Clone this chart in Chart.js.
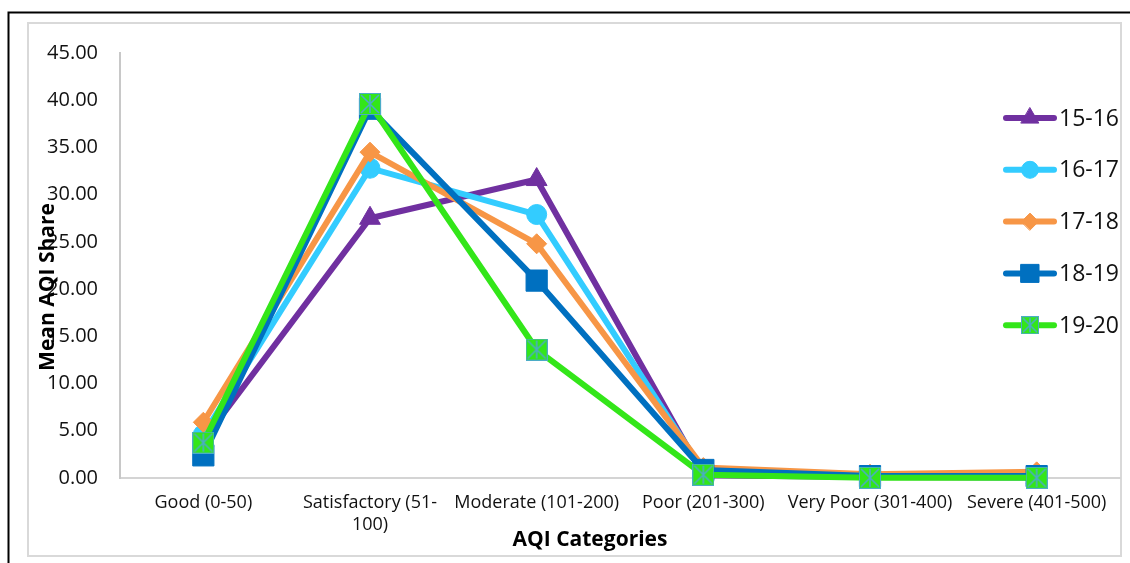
<!DOCTYPE html>
<html>
<head>
<meta charset="utf-8">
<script src="https://cdn.jsdelivr.net/npm/chart.js@4.4.1/dist/chart.umd.min.js"></script>
<style>
  html, body { margin: 0; padding: 0; background: #fff; }
  #wrap { width: 1130px; height: 563px; position: relative; }
</style>
</head>
<body>
<div id="wrap"><canvas id="c" width="1130" height="563"></canvas></div>
<script>
// AQI category share (%) per year
const categories = ['Good (0-50)', ['Satisfactory (51-', '100)'], 'Moderate (101-200)', 'Poor (201-300)', 'Very Poor (301-400)', 'Severe (401-500)'];
const seriesNames = ['15-16', '16-17', '17-18', '18-19', '19-20'];
const share1516 = [4.0, 27.5, 31.6, 0.3, 0.1, 0.05];
const share1617 = [4.6, 32.8, 27.9, 0.7, 0.15, 0.05];
const share1718 = [5.9, 34.5, 24.8, 1.1, 0.4, 0.65];
const share1819 = [2.4, 39.1, 20.9, 0.85, 0.2, 0.2];
const share1920 = [3.75, 39.6, 13.6, 0.35, 0.02, 0.02];
const yTicks = [0, 5, 10, 15, 20, 25, 30, 35, 40, 45];

const FONT = "'Open Sans', 'Noto Sans', sans-serif";

// square marker with an asterisk cross for the 19-20 series
function starSquare(size) {
  const c = document.createElement('canvas');
  c.width = size; c.height = size;
  const g = c.getContext('2d');
  g.fillStyle = '#33e619';
  g.fillRect(0, 0, size, size);
  g.strokeStyle = '#4bacc6';
  g.lineWidth = 1;
  g.strokeRect(0.5, 0.5, size - 1, size - 1);
  g.lineWidth = 1.6;
  g.beginPath();
  g.moveTo(2, 2); g.lineTo(size - 2, size - 2);
  g.moveTo(size - 2, 2); g.lineTo(2, size - 2);
  g.moveTo(size / 2, 2); g.lineTo(size / 2, size - 2);
  g.stroke();
  return c;
}
const starBig = starSquare(22);
const starSmall = starSquare(18);

const styles = [
  { color: '#7030a0', pointStyle: 'triangle', radius: 12, order: 5 },
  { color: '#33ccff', pointStyle: 'circle', radius: 10, order: 4 },
  { color: '#f79646', pointStyle: 'rectRot', radius: 10, order: 3 },
  { color: '#0070c0', pointStyle: 'rect', radius: 15, order: 2 },
  { color: '#33e619', pointStyle: starBig, radius: 11, order: 1 }
];
const values = [share1516, share1617, share1718, share1819, share1920];

const datasets = seriesNames.map((name, i) => ({
  label: name,
  data: values[i],
  borderColor: styles[i].color,
  backgroundColor: styles[i].color,
  borderWidth: 6,
  pointStyle: styles[i].pointStyle,
  pointRadius: styles[i].radius,
  pointHoverRadius: styles[i].radius,
  pointBorderWidth: 1,
  pointBackgroundColor: styles[i].color,
  pointBorderColor: styles[i].color,
  order: styles[i].order,
  tension: 0,
  clip: false
}));

// outer frame, inner chart border, axis titles and legend
const framePlugin = {
  id: 'frame',
  beforeDraw(chart) {
    const ctx = chart.ctx;
    ctx.save();
    ctx.fillStyle = '#ffffff';
    ctx.fillRect(0, 0, chart.width, chart.height);
    ctx.strokeStyle = '#000000';
    ctx.lineWidth = 2;
    ctx.beginPath();
    ctx.moveTo(8.5, 570); ctx.lineTo(8.5, 12.5); ctx.lineTo(1135, 12.5);
    ctx.stroke();
    ctx.strokeStyle = '#d9d9d9';
    ctx.lineWidth = 2;
    ctx.strokeRect(28, 23, 1093, 533);
    ctx.restore();
  },
  afterDraw(chart) {
    const ctx = chart.ctx;
    ctx.save();
    ctx.fillStyle = '#000000';
    ctx.font = 'bold 21px ' + FONT;
    ctx.textAlign = 'center';
    ctx.textBaseline = 'middle';
    ctx.fillText('AQI Categories', 590, 540);
    ctx.translate(48, 287);
    ctx.rotate(-Math.PI / 2);
    ctx.fillText('Mean AQI Share', 0, 0);
    ctx.restore();

    ctx.save();
    const x0 = 1006, x1 = 1054, step = 51.8;
    chart.data.datasets.forEach((ds, i) => {
      const y = 118 + i * step;
      ctx.strokeStyle = ds.borderColor;
      ctx.lineWidth = 6;
      ctx.lineCap = 'round';
      ctx.beginPath();
      ctx.moveTo(x0, y); ctx.lineTo(x1, y);
      ctx.stroke();
      ctx.fillStyle = ds.borderColor;
      ctx.strokeStyle = ds.borderColor;
      ctx.lineWidth = 1;
      const ps = i === 4 ? starSmall : ds.pointStyle;
      Chart.helpers.drawPoint(ctx, { pointStyle: ps, rotation: 0, radius: ds.pointRadius * 0.85, borderWidth: 1 }, (x0 + x1) / 2, y);
      ctx.fillStyle = '#111111';
      ctx.font = '23px ' + FONT;
      ctx.textAlign = 'left';
      ctx.textBaseline = 'middle';
      ctx.fillText(ds.label, 1059, y + 1);
    });
    ctx.restore();
  }
};

new Chart(document.getElementById('c'), {
  type: 'line',
  data: { labels: categories, datasets },
  options: {
    responsive: false,
    animation: false,
    devicePixelRatio: 1,
    layout: { autoPadding: false, padding: { top: 53, right: 10, bottom: 0, left: 0 } },
    plugins: { legend: { display: false }, tooltip: { enabled: false } },
    scales: {
      x: {
        type: 'category',
        offset: true,
        grid: { display: false, drawTicks: false },
        border: { display: true, color: '#d4d4d4', width: 2 },
        ticks: {
          autoSkip: false, maxRotation: 0, minRotation: 0, padding: 14,
          color: '#111111', font: { family: FONT, size: 18 }
        },
        afterFit(s) { s.height = 85; s.paddingLeft = 0; s.paddingRight = 0; }
      },
      y: {
        min: 0, max: 45,
        afterBuildTicks(s) { s.ticks = yTicks.map(v => ({ value: v })); },
        grid: { display: false, drawTicks: false },
        border: { display: true, color: '#c8c8c8', width: 2 },
        ticks: {
          padding: 22, color: '#111111', font: { family: FONT, size: 20 },
          callback: v => Number(v).toFixed(2)
        },
        afterFit(s) { s.width = 120; }
      }
    }
  },
  plugins: [framePlugin]
});
</script>
</body>
</html>
